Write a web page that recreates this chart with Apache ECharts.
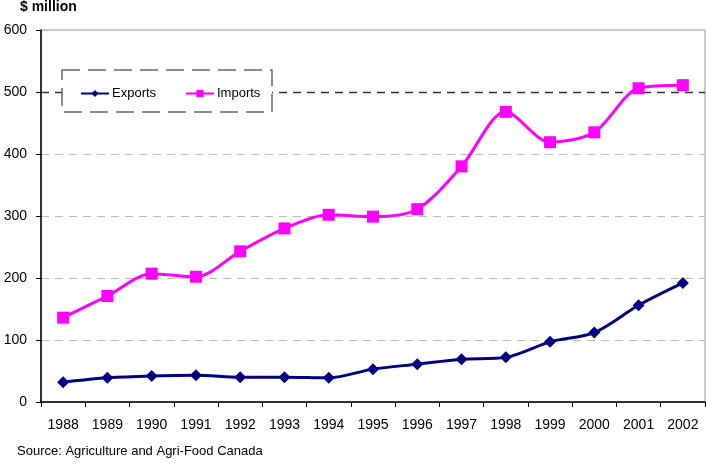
<!DOCTYPE html>
<html>
<head>
<meta charset="utf-8">
<script src="https://cdn.jsdelivr.net/npm/echarts@6/dist/echarts.min.js"></script>
<style>
  html, body { margin: 0; padding: 0; background: #fff; }
  #chart { width: 706px; height: 464px; }
</style>
</head>
<body>
<div id="chart"></div>
<script>
const years = ['1988', '1989', '1990', '1991', '1992', '1993', '1994', '1995', '1996', '1997', '1998', '1999', '2000', '2001', '2002'];
const exportsData = [32, 39, 42, 43, 40, 40, 39, 53, 61, 69, 72, 97, 112, 156, 192];
const importsData = [136, 171, 207, 202, 243, 280, 302, 299, 311, 380, 468, 419, 435, 506, 511];

const chart = echarts.init(document.getElementById('chart'));

// one legend per entry so each can sit where the reference has it
const legendBase = {
  z: 4, top: 82,
  itemWidth: 28, itemHeight: 9,
  textStyle: { fontSize: 13, color: '#000', padding: [0, 0, 0, -2] }
};

chart.setOption({
  animation: false,
  textStyle: { fontFamily: 'Liberation Sans, Arial, sans-serif' },
  title: [
    { text: '$ million', left: 20, top: 0, padding: 0, textStyle: { fontSize: 14, fontWeight: 'bold', color: '#000' } },
    { text: 'Source: Agriculture and Agri-Food Canada', left: 17, top: 445, padding: 0, textStyle: { fontSize: 13, fontWeight: 'normal', color: '#000' } }
  ],
  grid: { left: 41, right: 1, top: 30, bottom: 62, show: true, borderColor: '#999', borderWidth: 1, backgroundColor: 'transparent' },
  graphic: [
    {
      type: 'rect', z: 3,
      shape: { x: 62, y: 70, width: 210, height: 42 },
      style: { fill: '#fff', stroke: '#666', lineWidth: 1.5, lineDash: [18, 8] }
    }
  ],
  legend: [
    Object.assign({}, legendBase, { left: 75, data: ['Exports'] }),
    Object.assign({}, legendBase, { left: 180, data: ['Imports'] })
  ],
  xAxis: {
    type: 'category',
    data: years,
    boundaryGap: true,
    axisLine: { lineStyle: { color: '#000', width: 1.5 } },
    axisTick: { show: true, interval: 0, length: 5, lineStyle: { color: '#000' } },
    axisLabel: { color: '#000', fontSize: 14, margin: 16, interval: 0 },
    splitLine: { show: false }
  },
  yAxis: {
    type: 'value',
    min: 0, max: 600, interval: 100,
    axisLine: { show: true, lineStyle: { color: '#000', width: 1.5 } },
    axisTick: { show: true, length: 5, lineStyle: { color: '#000' } },
    axisLabel: { color: '#000', fontSize: 14, margin: 14 },
    splitLine: {
      show: true,
      lineStyle: {
        type: [8, 6],
        color: ['rgba(0,0,0,0)', '#bbb', '#bbb', '#bbb', '#bbb', 'rgba(0,0,0,0)', 'rgba(0,0,0,0)']
      }
    }
  },
  series: [
    {
      name: 'Exports',
      type: 'line',
      data: exportsData,
      smooth: 0.3,
      symbol: 'diamond',
      symbolSize: 12,
      itemStyle: { color: '#000080' },
      lineStyle: { color: '#000080', width: 3 },
      z: 5
    },
    {
      name: 'Imports',
      type: 'line',
      data: importsData,
      smooth: 0.3,
      symbol: 'rect',
      symbolSize: 12,
      itemStyle: { color: '#ff00ff' },
      lineStyle: { color: '#ff00ff', width: 3 },
      z: 5,
      markLine: {
        silent: true,
        symbol: 'none',
        z: 1,
        label: { show: false },
        lineStyle: { color: '#333', type: [8, 6], width: 1.3 },
        data: [{ yAxis: 500 }]
      }
    }
  ]
});
</script>
</body>
</html>
